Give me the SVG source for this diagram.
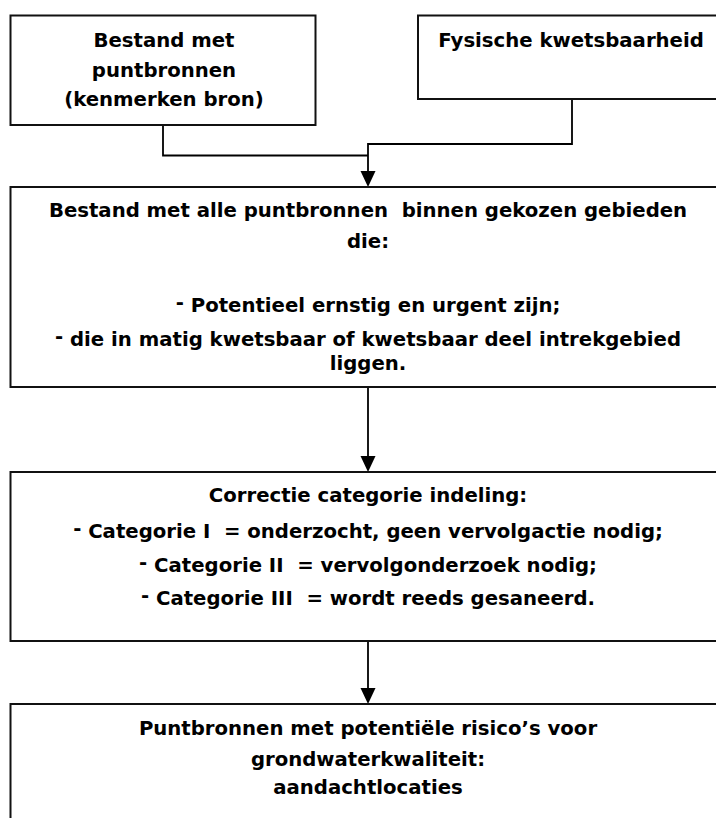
<svg xmlns="http://www.w3.org/2000/svg" width="716" height="818" viewBox="0 0 716 818">
<defs>
<style>
.box{fill:#fff;stroke:#111;stroke-width:2}
.t{font-family:"DejaVu Sans",Verdana,sans-serif;font-weight:bold;font-size:19.7px;fill:#000;text-anchor:middle}
.c{fill:none;stroke:#000;stroke-width:1.8}
</style>
</defs>
<rect width="716" height="818" fill="#fff"/>
<g id="connectors">
<polyline class="c" points="163,125 163,155.5 368,155.5"/>
<polyline class="c" points="572,99 572,144 368,144 368,172"/>
<path d="M360.5,171 L375.5,171 L368,187 Z" fill="#000"/>
<line class="c" x1="368" y1="387" x2="368" y2="457"/>
<path d="M360.5,456 L375.5,456 L368,472 Z" fill="#000"/>
<line class="c" x1="368" y1="641" x2="368" y2="689"/>
<path d="M360.5,688 L375.5,688 L368,704 Z" fill="#000"/>
</g>
<g id="n1">
<rect class="box" x="10.5" y="15.5" width="305" height="109.5"/>
<text class="t" x="164" y="47">Bestand met</text>
<text class="t" x="164" y="77">puntbronnen</text>
<text class="t" x="164" y="106">(kenmerken bron)</text>
</g>
<g id="n2">
<rect class="box" x="418" y="15.5" width="320" height="83.5"/>
<text class="t" x="571" y="47">Fysische kwetsbaarheid</text>
</g>
<g id="n3">
<rect class="box" x="10.5" y="187" width="730" height="200"/>
<text class="t" x="368" y="217" xml:space="preserve">Bestand met alle puntbronnen  binnen gekozen gebieden</text>
<text class="t" x="368" y="248">die:</text>
<text class="t" x="368" y="312"><tspan dy="-3">-</tspan><tspan dy="3"> Potentieel ernstig en urgent zijn;</tspan></text>
<text class="t" x="368" y="346"><tspan dy="-3">-</tspan><tspan dy="3"> die in matig kwetsbaar of kwetsbaar deel intrekgebied</tspan></text>
<text class="t" x="368" y="370">liggen.</text>
</g>
<g id="n4">
<rect class="box" x="10.5" y="472" width="730" height="169"/>
<text class="t" x="368" y="502">Correctie categorie indeling:</text>
<text class="t" x="368" y="538" xml:space="preserve"><tspan dy="-3">-</tspan><tspan dy="3"> Categorie I  = onderzocht, geen vervolgactie nodig;</tspan></text>
<text class="t" x="368" y="572" xml:space="preserve"><tspan dy="-3">-</tspan><tspan dy="3"> Categorie II  = vervolgonderzoek nodig;</tspan></text>
<text class="t" x="368" y="605" xml:space="preserve"><tspan dy="-3">-</tspan><tspan dy="3"> Categorie III  = wordt reeds gesaneerd.</tspan></text>
</g>
<g id="n5">
<rect class="box" x="10.5" y="704" width="730" height="140"/>
<text class="t" x="368" y="735">Puntbronnen met potentiële risico’s voor</text>
<text class="t" x="368" y="766">grondwaterkwaliteit:</text>
<text class="t" x="368" y="794">aandachtlocaties</text>
</g>
</svg>
